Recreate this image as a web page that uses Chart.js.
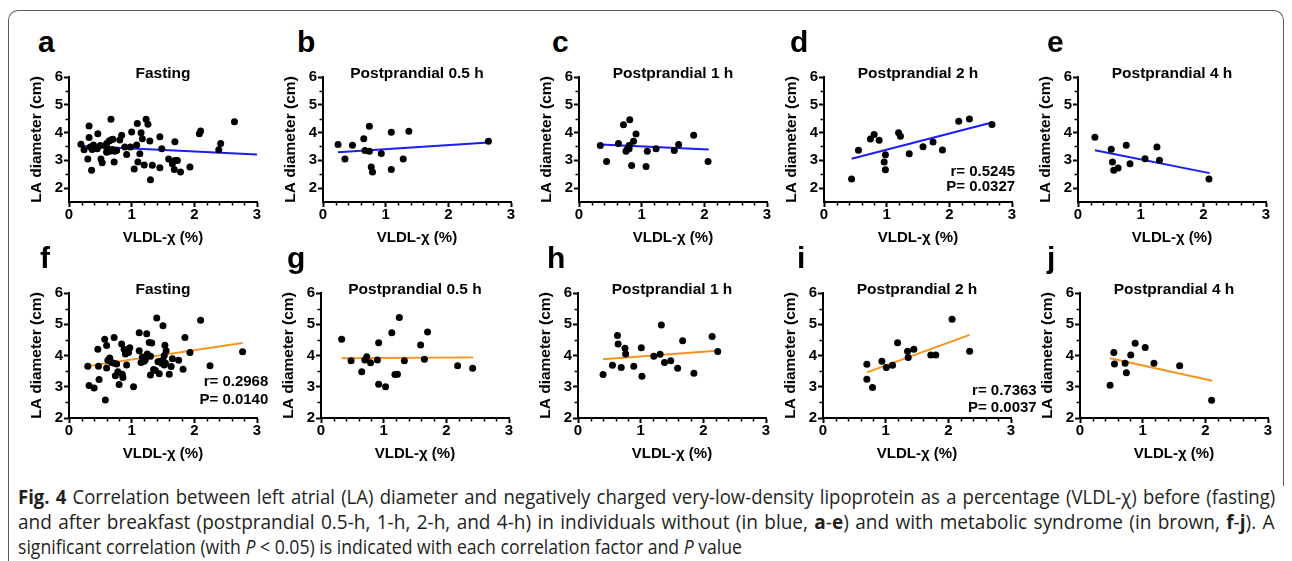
<!DOCTYPE html>
<html>
<head>
<meta charset="utf-8">
<title>Fig. 4 LA diameter vs VLDL-χ</title>
<script src="https://cdn.jsdelivr.net/npm/chart.js@4.4.0/dist/chart.umd.min.js"></script>
<style>
    html, body {
        margin: 0;
        padding: 0;
        width: 1292px;
        height: 561px;
        overflow: hidden;
        background: #ffffff;
        font-family: 'Liberation Sans', Arial, sans-serif;
    }
    #frame {
        position: absolute;
        left: 8px;
        top: 10px;
        width: 1274px;
        height: 475px;
        border: 1.5px solid #58595b;
        border-bottom: none;
        border-radius: 10px 10px 0 0;
    }
    #frameLeft {
        position: absolute;
        left: 8px;
        top: 484px;
        width: 0;
        height: 80px;
        border-left: 1.5px solid #58595b;
    }
    .letter {
        position: absolute;
        font: bold 30px 'Liberation Sans', Arial, sans-serif;
        line-height: 30px;
        color: #000;
    }
    .panel {
        position: absolute;
    }
    .cap {
        position: absolute;
        left: 18px;
        white-space: nowrap;
        font-family: 'Open Sans', 'Noto Sans', sans-serif;
        font-size: 20px;
        line-height: 22px;
        color: #231f20;
        transform-origin: 0 50%;
    }
</style>
</head>
<body>
<div id="frame"></div>
<div id="frameLeft"></div>

<div class="cap" id="cap1"><b>Fig. 4</b> Correlation between left atrial (LA) diameter and negatively charged very-low-density lipoprotein as a percentage (VLDL-χ) before (fasting)</div>
<div class="cap" id="cap2">and after breakfast (postprandial 0.5-h, 1-h, 2-h, and 4-h) in individuals without (in blue, <b>a</b>-<b>e</b>) and with metabolic syndrome (in brown, <b>f</b>-<b>j</b>). A</div>
<div class="cap" id="cap3">significant correlation (with <i>P</i> &lt; 0.05) is indicated with each correlation factor and <i>P</i> value</div>

<script>
// axis ticks and labels
const xTicks = [0, 1, 2, 3];
const yTicks = [2, 3, 4, 5, 6];
const titles = ['Fasting', 'Postprandial 0.5 h', 'Postprandial 1 h', 'Postprandial 2 h', 'Postprandial 4 h'];
const xTitle = 'VLDL-χ (%)';
const yTitle = 'LA diameter (cm)';

// a - e : without metabolic syndrome
const aX = [0.19, 0.24, 0.32, 0.32, 0.30, 0.36, 0.34, 0.37, 0.39, 0.45, 0.46, 0.50, 0.51, 0.53, 0.60, 0.60, 0.60, 0.64, 0.65, 0.67, 0.67, 0.70, 0.69, 0.73, 0.72, 0.76, 0.81, 0.84, 0.89, 0.92, 0.98, 1.00, 1.04, 1.08, 1.09, 1.10, 1.13, 1.15, 1.17, 1.20, 1.23, 1.26, 1.29, 1.30, 1.33, 1.45, 1.45, 1.48, 1.59, 1.65, 1.69, 1.73, 1.69, 1.68, 1.78, 1.93, 2.08, 2.10, 2.39, 2.42, 2.64];
const aY = [3.58, 3.38, 4.24, 3.82, 3.05, 2.64, 3.48, 3.39, 3.55, 3.42, 3.96, 3.53, 3.05, 2.91, 3.45, 3.61, 3.29, 3.70, 3.33, 4.48, 3.73, 3.76, 3.39, 3.33, 2.94, 3.35, 3.73, 3.90, 3.48, 3.21, 3.48, 4.02, 2.69, 3.55, 4.33, 2.94, 3.24, 3.99, 3.78, 2.83, 4.48, 4.30, 3.70, 2.30, 2.82, 2.73, 3.85, 3.42, 3.05, 2.88, 2.99, 2.99, 3.67, 2.67, 2.58, 2.76, 3.96, 4.06, 3.38, 3.61, 4.39];
const fitA = [[0.20, 3.52], [3.00, 3.21]];

const bX = [0.24, 0.35, 0.47, 0.65, 0.67, 0.74, 0.74, 0.77, 0.79, 0.93, 1.09, 1.09, 1.28, 1.37, 2.64];
const bY = [3.57, 3.05, 3.54, 3.78, 3.35, 3.33, 4.23, 2.76, 2.58, 3.25, 4.01, 2.67, 3.05, 4.05, 3.69];
const fitB = [[0.24, 3.29], [2.64, 3.64]];

const cX = [0.34, 0.44, 0.63, 0.71, 0.75, 0.77, 0.80, 0.81, 0.80, 0.84, 0.87, 0.91, 1.07, 1.09, 1.23, 1.52, 1.59, 1.83, 2.06];
const cY = [3.53, 2.96, 3.61, 4.28, 3.33, 3.40, 3.53, 4.46, 3.42, 2.81, 3.69, 3.95, 2.78, 3.33, 3.42, 3.35, 3.57, 3.90, 2.96];
const fitC = [[0.34, 3.57], [2.07, 3.39]];

const dX = [0.44, 0.55, 0.74, 0.80, 0.88, 0.96, 0.98, 0.98, 1.19, 1.22, 1.36, 1.58, 1.74, 1.89, 2.15, 2.32, 2.68];
const dY = [2.33, 3.36, 3.77, 3.93, 3.72, 2.94, 3.20, 2.66, 3.99, 3.87, 3.24, 3.49, 3.66, 3.37, 4.41, 4.49, 4.29];
const fitD = [[0.44, 3.06], [2.68, 4.36]];
const statsD = ['r= 0.5245', 'P= 0.0327'];

const eX = [0.27, 0.53, 0.55, 0.57, 0.64, 0.77, 0.83, 1.07, 1.26, 1.30, 2.09];
const eY = [3.83, 3.40, 2.94, 2.64, 2.72, 3.54, 2.88, 3.06, 3.48, 3.00, 2.33];
const fitE = [[0.27, 3.36], [2.10, 2.54]];

// f - j : with metabolic syndrome
const fX = [0.30, 0.32, 0.40, 0.46, 0.47, 0.48, 0.57, 0.58, 0.60, 0.60, 0.62, 0.65, 0.68, 0.72, 0.72, 0.74, 0.76, 0.78, 0.80, 0.84, 0.85, 0.86, 0.88, 0.90, 0.92, 0.95, 0.97, 1.03, 1.12, 1.12, 1.15, 1.17, 1.20, 1.22, 1.24, 1.25, 1.28, 1.30, 1.30, 1.32, 1.35, 1.38, 1.40, 1.42, 1.44, 1.46, 1.48, 1.50, 1.50, 1.52, 1.52, 1.53, 1.54, 1.55, 1.60, 1.63, 1.65, 1.75, 1.82, 1.85, 1.93, 2.10, 2.25, 2.77];
const fY = [3.66, 3.04, 2.96, 4.20, 3.66, 3.23, 4.52, 2.58, 4.32, 3.60, 3.85, 3.92, 3.78, 4.58, 3.75, 3.35, 3.73, 3.48, 3.07, 4.37, 3.40, 3.30, 4.20, 4.05, 3.70, 4.10, 4.25, 3.00, 4.73, 4.15, 3.78, 3.95, 3.82, 3.87, 4.70, 4.05, 4.42, 3.98, 3.38, 4.40, 3.55, 3.52, 5.20, 3.80, 3.42, 3.82, 3.75, 4.95, 3.85, 4.00, 3.70, 4.33, 3.75, 4.15, 3.40, 3.65, 3.90, 3.85, 3.56, 4.58, 4.10, 5.13, 3.67, 4.12];
const fitF = [[0.30, 3.66], [2.77, 4.40]];
const statsF = ['r= 0.2968', 'P= 0.0140'];

const gX = [0.33, 0.48, 0.65, 0.70, 0.73, 0.79, 0.90, 0.92, 0.92, 1.03, 1.13, 1.18, 1.22, 1.25, 1.33, 1.59, 1.65, 1.70, 2.18, 2.42];
const gY = [4.52, 3.83, 3.48, 3.86, 3.96, 3.77, 3.86, 4.41, 3.08, 3.00, 4.73, 3.39, 3.40, 5.22, 3.83, 4.34, 3.88, 4.75, 3.67, 3.59];
const fitG = [[0.33, 3.91], [2.43, 3.94]];

const hX = [0.40, 0.55, 0.63, 0.64, 0.69, 0.75, 0.76, 0.89, 1.01, 1.02, 1.21, 1.31, 1.33, 1.38, 1.48, 1.59, 1.67, 1.85, 2.14, 2.23];
const hY = [3.39, 3.69, 4.64, 4.37, 3.62, 4.23, 4.05, 3.66, 4.25, 3.34, 3.98, 4.04, 4.98, 3.78, 3.83, 3.59, 4.47, 3.43, 4.61, 4.13];
const fitH = [[0.40, 3.88], [2.26, 4.16]];

const iX = [0.70, 0.70, 0.79, 0.94, 1.01, 1.11, 1.19, 1.35, 1.36, 1.45, 1.72, 1.80, 2.06, 2.34];
const iY = [3.72, 3.24, 2.98, 3.82, 3.62, 3.69, 4.41, 4.14, 3.94, 4.20, 4.02, 4.02, 5.16, 4.14];
const fitI = [[0.70, 3.46], [2.34, 4.66]];
const statsI = ['r= 0.7363', 'P= 0.0037'];

const jX = [0.48, 0.54, 0.55, 0.72, 0.74, 0.81, 0.88, 1.04, 1.18, 1.59, 2.10];
const jY = [3.05, 4.10, 3.73, 3.75, 3.45, 4.02, 4.39, 4.26, 3.75, 3.67, 2.57];
const fitJ = [[0.48, 3.91], [2.11, 3.19]];

const BLUE = '#1c1cf5';
const ORANGE = '#f7931e';
const INK = '#000000';
const FONT = "'Liberation Sans', Arial, sans-serif";

// layout: axisX = pixel of x=0, axisTop = pixel of y=6
const panels = [
    { key: 'a', xs: aX, ys: aY, fit: fitA, color: BLUE, title: titles[0], axisX: 69, axisTop: 77, yMin: 1.5, letterX: 38 },
    { key: 'b', xs: bX, ys: bY, fit: fitB, color: BLUE, title: titles[1], axisX: 323, axisTop: 77, yMin: 1.5, letterX: 297 },
    { key: 'c', xs: cX, ys: cY, fit: fitC, color: BLUE, title: titles[2], axisX: 579, axisTop: 77, yMin: 1.5, letterX: 552 },
    { key: 'd', xs: dX, ys: dY, fit: fitD, color: BLUE, title: titles[3], axisX: 824, axisTop: 77, yMin: 1.5, letterX: 790,
      stats: statsD, statX: 3.05, statY: [2.59, 2.05] },
    { key: 'e', xs: eX, ys: eY, fit: fitE, color: BLUE, title: titles[4], axisX: 1078, axisTop: 77, yMin: 1.5, letterX: 1047 },
    { key: 'f', xs: fX, ys: fY, fit: fitF, color: ORANGE, title: titles[0], axisX: 69, axisTop: 293, yMin: 2, letterX: 40,
      stats: statsF, statX: 3.18, statY: [3.16, 2.58] },
    { key: 'g', xs: gX, ys: gY, fit: fitG, color: ORANGE, title: titles[1], axisX: 321, axisTop: 293, yMin: 2, letterX: 287 },
    { key: 'h', xs: hX, ys: hY, fit: fitH, color: ORANGE, title: titles[2], axisX: 578, axisTop: 293, yMin: 2, letterX: 547 },
    { key: 'i', xs: iX, ys: iY, fit: fitI, color: ORANGE, title: titles[3], axisX: 823, axisTop: 293, yMin: 2, letterX: 797,
      stats: statsI, statX: 3.41, statY: [2.87, 2.31] },
    { key: 'j', xs: jX, ys: jY, fit: fitJ, color: ORANGE, title: titles[4], axisX: 1080, axisTop: 293, yMin: 2, letterX: 1047 }
];

const Y_AXIS_W = 50;   // space left of the y axis line
const X_AXIS_H = 46;   // space under the x axis line
const TOP_PAD = 30;
const PLOT_W = 188;
const PLOT_H = 125;
const RIGHT_PAD = 32;

// minor ticks, panel title and r / P text
const panelDecor = {
    id: 'panelDecor',
    afterDraw(chart, args, opts) {
        const { ctx, chartArea, scales: { x, y } } = chart;
        ctx.save();
        ctx.strokeStyle = INK;
        ctx.lineWidth = 1.5;
        ctx.beginPath();
        for (let i = 1; i < 15; i++) {
            if (i % 5 === 0) continue;
            const px = Math.round(x.getPixelForValue(i * 0.2)) + 0.5;
            ctx.moveTo(px, chartArea.bottom);
            ctx.lineTo(px, chartArea.bottom + 3.5);
        }
        for (let v = 2.5; v < 6; v += 1) {
            const py = Math.round(y.getPixelForValue(v)) + 0.5;
            ctx.moveTo(chartArea.left, py);
            ctx.lineTo(chartArea.left - 3.5, py);
        }
        ctx.stroke();

        ctx.fillStyle = INK;
        ctx.font = 'bold 15.5px ' + FONT;
        ctx.textAlign = 'center';
        ctx.textBaseline = 'middle';
        ctx.fillText(opts.title, (chartArea.left + chartArea.right) / 2, chartArea.top - 3);

        if (opts.stats) {
            ctx.font = 'bold 15px ' + FONT;
            ctx.textAlign = 'right';
            opts.stats.forEach((txt, k) => {
                ctx.fillText(txt, x.getPixelForValue(opts.statX), y.getPixelForValue(opts.statY[k]));
            });
        }
        ctx.restore();
    }
};

function buildPanel(p) {
    const letter = document.createElement('div');
    letter.className = 'letter';
    letter.textContent = p.key;
    letter.style.left = p.letterX + 'px';
    letter.style.top = (p.axisTop < 200 ? 27 : 243) + 'px';
    document.body.appendChild(letter);

    const canvas = document.createElement('canvas');
    canvas.className = 'panel';
    canvas.width = Y_AXIS_W + PLOT_W + RIGHT_PAD;
    canvas.height = TOP_PAD + PLOT_H + X_AXIS_H + 2;
    canvas.style.left = (p.axisX - Y_AXIS_W) + 'px';
    canvas.style.top = (p.axisTop - TOP_PAD) + 'px';
    document.body.appendChild(canvas);

    const points = p.xs.map((v, k) => ({ x: v, y: p.ys[k] }));
    const fitLine = p.fit.map(([fx, fy]) => ({ x: fx, y: fy }));

    return new Chart(canvas, {
        type: 'scatter',
        data: {
            datasets: [
                {
                    data: points,
                    backgroundColor: INK,
                    borderWidth: 0,
                    pointRadius: 3.5,
                    clip: false
                },
                {
                    data: fitLine,
                    showLine: true,
                    borderColor: p.color,
                    borderWidth: 2,
                    pointRadius: 0,
                    fill: false
                }
            ]
        },
        plugins: [panelDecor],
        options: {
            responsive: false,
            animation: false,
            devicePixelRatio: 1,
            layout: {
                padding: { left: 0, top: TOP_PAD, right: RIGHT_PAD, bottom: 2 }
            },
            plugins: {
                legend: { display: false },
                tooltip: { enabled: false },
                panelDecor: {
                    title: p.title,
                    stats: p.stats || null,
                    statX: p.statX,
                    statY: p.statY
                }
            },
            scales: {
                x: {
                    type: 'linear',
                    min: 0,
                    max: 3,
                    afterBuildTicks: (scale) => { scale.ticks = xTicks.map(v => ({ value: v })); },
                    afterFit: (scale) => { scale.height = X_AXIS_H; },
                    border: { color: INK, width: 2 },
                    grid: {
                        drawOnChartArea: false,
                        drawTicks: true,
                        tickLength: 5,
                        tickWidth: 2,
                        tickColor: INK
                    },
                    ticks: {
                        color: INK,
                        padding: -1,
                        font: { family: FONT, size: 15, weight: 'bold' }
                    },
                    title: {
                        display: true,
                        text: xTitle,
                        color: INK,
                        padding: { top: 0, bottom: 1 },
                        font: { family: FONT, size: 15, weight: 'bold' }
                    }
                },
                y: {
                    type: 'linear',
                    min: p.yMin,
                    max: 6,
                    afterBuildTicks: (scale) => { scale.ticks = yTicks.map(v => ({ value: v })); },
                    afterFit: (scale) => { scale.width = Y_AXIS_W; },
                    border: { color: INK, width: 2 },
                    grid: {
                        drawOnChartArea: false,
                        drawTicks: true,
                        tickLength: 5,
                        tickWidth: 2,
                        tickColor: INK
                    },
                    ticks: {
                        color: INK,
                        padding: 1,
                        font: { family: FONT, size: 15, weight: 'bold' }
                    },
                    title: {
                        display: true,
                        text: yTitle,
                        color: INK,
                        padding: { top: 8, bottom: 0 },
                        font: { family: FONT, size: 15.5, weight: 'bold' }
                    }
                }
            }
        }
    });
}

panels.forEach(buildPanel);

// caption: each line squeezed to its width in the figure
(function layoutCaption() {
    const lines = [document.getElementById('cap1'), document.getElementById('cap2'), document.getElementById('cap3')];
    const centers = [497, 522, 547];
    const targets = [1257, 1257, 724];
    lines.forEach((el, k) => {
        el.style.top = (centers[k] - 11) + 'px';
        if (k < 2) el.style.wordSpacing = '1.5px';
        const sx = targets[k] / el.offsetWidth;
        el.style.transform = 'scaleX(' + sx + ')';
    });
})();
</script>
</body>
</html>
